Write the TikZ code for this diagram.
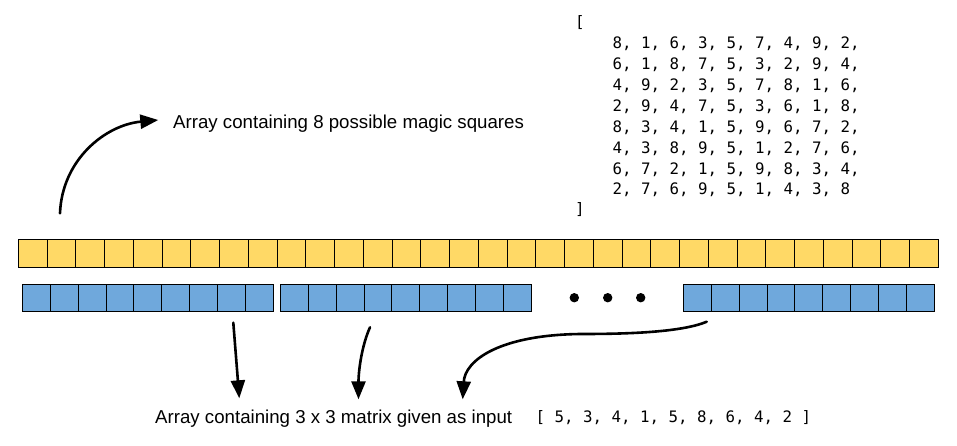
\documentclass[tikz,border=0pt]{standalone}
\usepackage{fontspec}
\setmainfont{Liberation Sans}
\newfontfamily\codefont{DejaVu Sans Mono}
\usetikzlibrary{arrows.meta}
\definecolor{cellyellow}{HTML}{FFD966}
\definecolor{cellblue}{HTML}{6FA8DC}
\begin{document}
\begin{tikzpicture}[x=1pt,y=-1pt,
  ycell/.style={draw=black, line width=1pt, fill=cellyellow, minimum width=28.75pt,
    minimum height=28pt, inner sep=0pt, outer sep=0pt, anchor=north west},
  bcell/.style={draw=black, line width=1pt, fill=cellblue, minimum width=27.9pt,
    minimum height=27pt, inner sep=0pt, outer sep=0pt, anchor=north west},
  dotnode/.style={circle, fill=black, minimum size=9.4pt, inner sep=0pt},
  conn/.style={line width=2.6pt, line cap=round, -{Triangle[length=18pt,width=14pt]}},
  txt/.style={font=\fontsize{18.67}{22}\selectfont, inner sep=0pt, anchor=base west},
  codesmall/.style={font=\codefont\fontsize{15.78}{20}\selectfont, inner sep=0pt, anchor=base west}]
\useasboundingbox (0,0) rectangle (957,445);
\fill[white] (0,0) rectangle (957,445);

% yellow array (32 cells)
\foreach \i in {0,...,31}
  \node[ycell] (y\i) at ({18.3+\i*28.75},239.3) {};

% blue arrays
\foreach \g/\x in {1/22.3, 2/280.3, 3/683.3}
  \foreach \i in {0,...,8}
    \node[bcell] (b\g-\i) at ({\x+\i*27.9},284.3) {};

% dots
\node[dotnode] (d1) at (574.3,297.7) {};
\node[dotnode] (d2) at (607.7,297.7) {};
\node[dotnode] (d3) at (640.7,297.7) {};

% texts
\node[txt] (toptext) at (173,128.5) {Array containing 8 possible magic squares};
\node[txt] (bottext) at (155,423) {Array containing 3 x 3 matrix given as input};
\node[codesmall] (input) at (535.5,422) {[ 5, 3, 4, 1, 5, 8, 6, 4, 2 ]};

% matrix listing
\node[codesmall] (mopen) at (575,27.3) {[};
\node[codesmall] (m1) at (612.5,48.3)  {8, 1, 6, 3, 5, 7, 4, 9, 2,};
\node[codesmall] (m2) at (612.5,69.25) {6, 1, 8, 7, 5, 3, 2, 9, 4,};
\node[codesmall] (m3) at (612.5,90.2)  {4, 9, 2, 3, 5, 7, 8, 1, 6,};
\node[codesmall] (m4) at (612.5,111.15){2, 9, 4, 7, 5, 3, 6, 1, 8,};
\node[codesmall] (m5) at (612.5,132.1) {8, 3, 4, 1, 5, 9, 6, 7, 2,};
\node[codesmall] (m6) at (612.5,153.05){4, 3, 8, 9, 5, 1, 2, 7, 6,};
\node[codesmall] (m7) at (612.5,174)   {6, 7, 2, 1, 5, 9, 8, 3, 4,};
\node[codesmall] (m8) at (612.5,194.95){2, 7, 6, 9, 5, 1, 4, 3, 8};
\node[codesmall] (mclose) at (575,214) {]};

% arrow endpoints
\coordinate (a1s) at (60,213.3);
\coordinate (a1e) at (158.3,120);
\coordinate (a2s) at (233.3,322.7);
\coordinate (a2e) at (239.3,398.3);
\coordinate (a3s) at (370,327.3);
\coordinate (a3e) at (358.5,399.3);
\coordinate (a4s) at (706.7,321.7);
\coordinate (a4m) at (580,334);
\coordinate (a4e) at (462.7,399.3);

\draw[conn] (a1s) .. controls (62,160) and (105,125) .. (a1e);
\draw[conn] (a2s) -- (a2e);
\draw[conn] (a3s) .. controls (362,345) and (358.5,370) .. (a3e);
\draw[conn] (a4s) .. controls (680,333) and (620,334) .. (a4m)
                  .. controls (500,335) and (465,360) .. (a4e);
\end{tikzpicture}
\end{document}
